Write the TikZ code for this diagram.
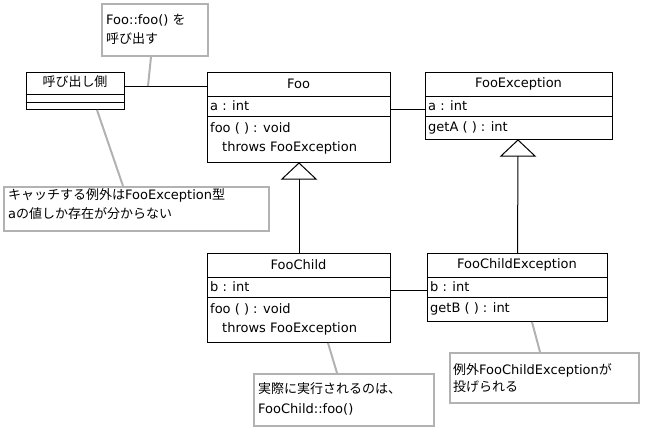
\documentclass[tikz,border=0pt]{standalone}
\usepackage{fontspec}
\setmainfont{DejaVu Sans}
\newfontfamily\jp{Noto Sans CJK JP}
\usetikzlibrary{calc}
\begin{document}
\begin{tikzpicture}[x=1pt,y=-1pt,
  cls/.style={draw=black,line width=1pt,rectangle,inner sep=0pt,anchor=north west},
  note/.style={draw=black!30,line width=2pt,rectangle,inner sep=0pt,anchor=north west,fill=white},
  txt/.style={inner sep=0pt,anchor=west,font=\fontsize{13}{15}\selectfont},
  ctxt/.style={inner sep=0pt,anchor=center,font=\fontsize{13}{15}\selectfont},
  sep/.style={draw=black,line width=1pt},
  lead/.style={draw=black!30,line width=2pt},
  assoc/.style={draw=black,line width=1pt},
  gen/.style={draw=black,line width=1pt,fill=white}]
\useasboundingbox (0,0) rectangle (649,429);
% caller
\node[cls,minimum width=98,minimum height=37] (caller) at (26,72) {};
\draw[sep] ($(caller.north west)+(0,22)$) -- ($(caller.north east)+(0,22)$);
\draw[sep] ($(caller.north west)+(0,30)$) -- ($(caller.north east)+(0,30)$);
\node[ctxt] (callert) at (75,82) {\jp 呼び出し側};
% Foo
\node[cls,minimum width=183,minimum height=90] (foo) at (207,72) {};
\draw[sep] ($(foo.north west)+(0,24)$) -- ($(foo.north east)+(0,24)$);
\draw[sep] ($(foo.north west)+(0,44)$) -- ($(foo.north east)+(0,44)$);
\node[ctxt] (foot) at (298.5,84) {Foo};
\node[txt] (fooa) at (210,106) {a : int};
\node[txt] (foom) at (210,128) {foo ( ) : void};
\node[txt] (foom2) at (222,148) {throws FooException};
% FooException
\node[cls,minimum width=187,minimum height=67] (fex) at (425,72) {};
\draw[sep] ($(fex.north west)+(0,24)$) -- ($(fex.north east)+(0,24)$);
\draw[sep] ($(fex.north west)+(0,44)$) -- ($(fex.north east)+(0,44)$);
\node[ctxt] (fext) at (518.5,84) {FooException};
\node[txt] (fexa) at (428,106) {a : int};
\node[txt] (fexm) at (428,128) {getA ( ) : int};
% FooChild
\node[cls,minimum width=183,minimum height=89] (fc) at (207,253) {};
\draw[sep] ($(fc.north west)+(0,24)$) -- ($(fc.north east)+(0,24)$);
\draw[sep] ($(fc.north west)+(0,44)$) -- ($(fc.north east)+(0,44)$);
\node[ctxt] (fct) at (298.5,265) {FooChild};
\node[txt] (fcb) at (210,287) {b : int};
\node[txt] (fcm) at (210,309) {foo ( ) : void};
\node[txt] (fcm2) at (222,329) {throws FooException};
% FooChildException
\node[cls,minimum width=180,minimum height=68] (fcex) at (427,253) {};
\draw[sep] ($(fcex.north west)+(0,24)$) -- ($(fcex.north east)+(0,24)$);
\draw[sep] ($(fcex.north west)+(0,44)$) -- ($(fcex.north east)+(0,44)$);
\node[ctxt] (fcext) at (517,265) {FooChildException};
\node[txt] (fcexb) at (430,287) {b : int};
\node[txt] (fcexm) at (430,309) {getB ( ) : int};
% associations
\draw[assoc] ($(caller.north east)+(0,14)$) coordinate (c1) -- ($(foo.north west)+(0,14)$);
\draw[assoc] ($(foo.north east)+(0,37)$) -- ($(fex.north west)+(0,37)$);
\draw[assoc] ($(fc.north east)+(0,37)$) -- ($(fcex.north west)+(0,37)$);
% generalizations
\draw[assoc] ($(foo.south)+(0,16)$) -- (fc.north);
\draw[gen] (foo.south) -- ++(17,16) -- ++(-34,0) -- cycle;
\draw[assoc] ($(fex.south)+(-1,16)$) -- ($(fcex.north)+(0,0)$);
\draw[gen] ($(fex.south)+(-1,0)$) -- ++(17,16) -- ++(-34,0) -- cycle;
% notes
\node[note,minimum width=106,minimum height=52] (n1) at (101,3) {};
\node[txt] at (106,20) {Foo::foo() {\jp を}};
\node[txt] at (106,39) {\jp 呼び出す};
\draw[lead] ($(n1.south west)+(50,0)$) -- ($(c1)+(23,0)$);
\node[note,minimum width=265,minimum height=44] (n2) at (3,186) {};
\node[txt] at (8,195) {{\jp キャッチする例外は}FooException{\jp 型}};
\node[txt] at (8,214) {a{\jp の値しか存在が分からない}};
\draw[lead] ($(caller.south west)+(71,0)$) -- ($(n2.north west)+(120,0)$);
\node[note,minimum width=180,minimum height=52] (n3) at (253,373) {};
\node[txt] at (258,389) {\jp 実際に実行されるのは、};
\node[txt] at (258,409) {FooChild::foo()};
\draw[lead] ($(fc.south west)+(121,0)$) -- ($(n3.north west)+(84,0)$);
\node[note,minimum width=189,minimum height=50] (n4) at (449,352) {};
\node[txt] at (453,370) {{\jp 例外}FooChildException{\jp が}};
\node[txt] at (453,387) {\jp 投げられる};
\draw[lead] ($(fcex.south west)+(105,0)$) -- ($(n4.north west)+(91,0)$);
\end{tikzpicture}
\end{document}
